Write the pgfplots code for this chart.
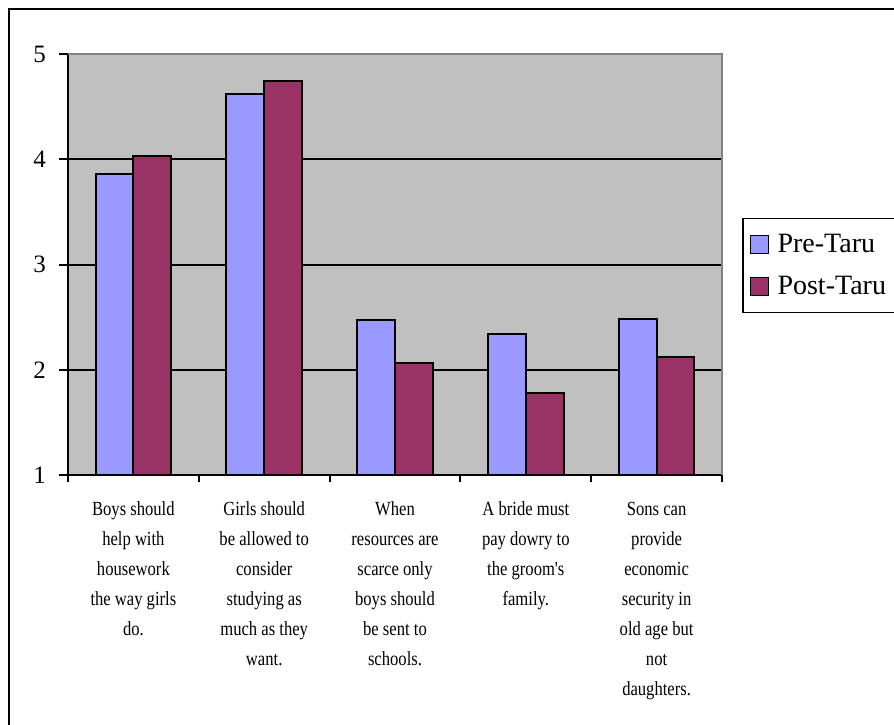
\documentclass[border=0pt]{standalone}
\usepackage{fontspec}
\setmainfont{Liberation Serif}
\newfontfamily\catfont{Liberation Serif}[FakeStretch=0.83]
\usepackage{pgfplots}
\pgfplotsset{compat=1.18}
\definecolor{preTaru}{HTML}{9999FF}
\definecolor{postTaru}{HTML}{993366}
\definecolor{plotBg}{HTML}{C0C0C0}
\definecolor{frameGray}{HTML}{808080}

\begin{document}
\begin{tikzpicture}
% outer chart frame (top and left edges)
\draw[black, line width=1pt] (4.5pt,-5pt) -- (4.5pt,357.5pt) -- (460pt,357.5pt);
\begin{axis}[
  at={(34pt,124.5pt)}, anchor=south west,
  scale only axis, width=327pt, height=210.5pt,
  xmin=-0.5, xmax=4.5, ymin=1, ymax=5,
  axis background/.style={fill=plotBg},
  axis lines*=left,
  axis line style={black, line width=1pt},
  ybar=0pt, bar width=18.85pt,
  ymajorgrids, grid style={black, line width=1pt},
  ytick={1,2,3,4,5},
  xtick={0,1,2,3,4},
  xticklabels={
    {Boys should\\help with\\housework\\the way girls\\do.},
    {Girls should\\be allowed to\\consider\\studying as\\much as they\\want.},
    {When\\resources are\\scarce only\\boys should\\be sent to\\schools.},
    {A bride must\\pay dowry to\\the groom's\\family.},
    {Sons can\\provide\\economic\\security in\\old age but\\not\\daughters.}},
  minor xtick={-0.5,0.5,1.5,2.5,3.5,4.5},
  major x tick style={draw=none},
  tick align=outside,
  major tick length=4.5pt, minor tick length=3.5pt,
  tick style={black, line width=1pt},
  /pgf/number format/assume math mode=true,
  yticklabel style={font=\fontsize{12.5}{15}\selectfont, xshift=-3pt},
  xticklabel style={font=\catfont\fontsize{10}{15}\selectfont, align=center, anchor=north, yshift=-5.5pt},
  legend style={at={(1.0306,0.6105)}, anchor=north west, draw=black, line width=0.75pt,
    font=\fontsize{14}{16}\selectfont, fill=white, row sep=6.5pt,
    inner xsep=3.5pt, inner ysep=5.5pt},
  legend cell align=left,
  legend image code/.code={%
    \draw[#1, line width=0.75pt] (0pt,-4.5pt) rectangle (9pt,4.5pt);
    \path (11pt,0pt);},
  after end axis/.code={\draw[frameGray, line width=1pt] (rel axis cs:0,1) -- (rel axis cs:1,1) -- (rel axis cs:1,0);},
]
\addplot[draw=black, line width=1pt, fill=preTaru] coordinates {(0,3.86) (1,4.62) (2,2.47) (3,2.34) (4,2.48)};
\addplot[draw=black, line width=1pt, fill=postTaru] coordinates {(0,4.03) (1,4.74) (2,2.06) (3,1.78) (4,2.12)};
\legend{Pre-Taru, Post-Taru}
\end{axis}
\pgfresetboundingbox
\useasboundingbox (0pt,0pt) rectangle (447pt,362pt);
\end{tikzpicture}
\end{document}
